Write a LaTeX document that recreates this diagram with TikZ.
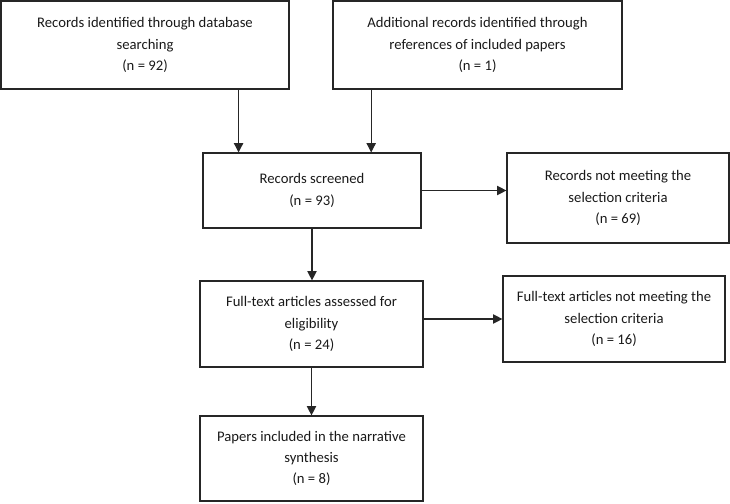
\documentclass[tikz,border=0pt]{standalone}
\usepackage{fontspec}
\setmainfont{Carlito}
\usetikzlibrary{arrows.meta,calc}

\tikzset{
  stagebox/.style={draw=black!85, line width=0.9pt, rectangle, inner sep=0pt,
    align=center, text=black!90, font=\fontsize{11pt}{16pt}\selectfont},
  flow/.style={draw=black!85, line width=0.9pt, -{Triangle[length=7pt,width=7pt]}}
}

\begin{document}
\begin{tikzpicture}[x=0.75pt,y=0.75pt,yscale=-1,xscale=1]
\useasboundingbox (0,0) rectangle (730,503);

%Shape: Rectangle [identification]
\node[stagebox, minimum width=288*0.75pt, minimum height=88*0.75pt] (dbrec) at (145,45)
  {Records identified through database\\searching\\(n = 92)};
\node[stagebox, minimum width=289*0.75pt, minimum height=88*0.75pt] (refrec) at (477.5,45)
  {Additional records identified through\\references of included papers\\(n = 1)};

%Shape: Rectangle [screening]
\node[stagebox, minimum width=218*0.75pt, minimum height=75*0.75pt] (screened) at (312,190.5)
  {Records screened\\(n = 93)};
\node[stagebox, minimum width=222*0.75pt, minimum height=90*0.75pt] (notmet) at (618,198)
  {Records not meeting the\\selection criteria\\(n = 69)};

%Shape: Rectangle [eligibility]
\node[stagebox, minimum width=223*0.75pt, minimum height=86*0.75pt] (fulltext) at (311.5,324)
  {Full-text articles assessed for\\eligibility\\(n = 24)};
\node[stagebox, minimum width=222*0.75pt, minimum height=86*0.75pt] (ftnotmet) at (614,319)
  {Full-text articles not meeting the\\selection criteria\\(n = 16)};

%Shape: Rectangle [included]
\node[stagebox, minimum width=223*0.75pt, minimum height=85*0.75pt] (papers) at (311.5,458.5)
  {Papers included in the narrative\\synthesis\\(n = 8)};

%Straight Lines
\coordinate (scrin1) at ($(screened.north west)!0.165!(screened.north east)$);
\coordinate (scrin2) at ($(screened.north west)!0.77!(screened.north east)$);
\draw[flow] (dbrec.south -| scrin1) -- (scrin1);
\draw[flow] (refrec.south -| scrin2) -- (scrin2);
\draw[flow] (screened.east) -- (screened.east -| notmet.west);
\draw[flow] (screened.south) -- (screened.south |- fulltext.north);
\draw[flow] (fulltext.east |- ftnotmet.west) -- (ftnotmet.west);
\draw[flow] (fulltext.south) -- (fulltext.south |- papers.north);
\end{tikzpicture}
\end{document}
